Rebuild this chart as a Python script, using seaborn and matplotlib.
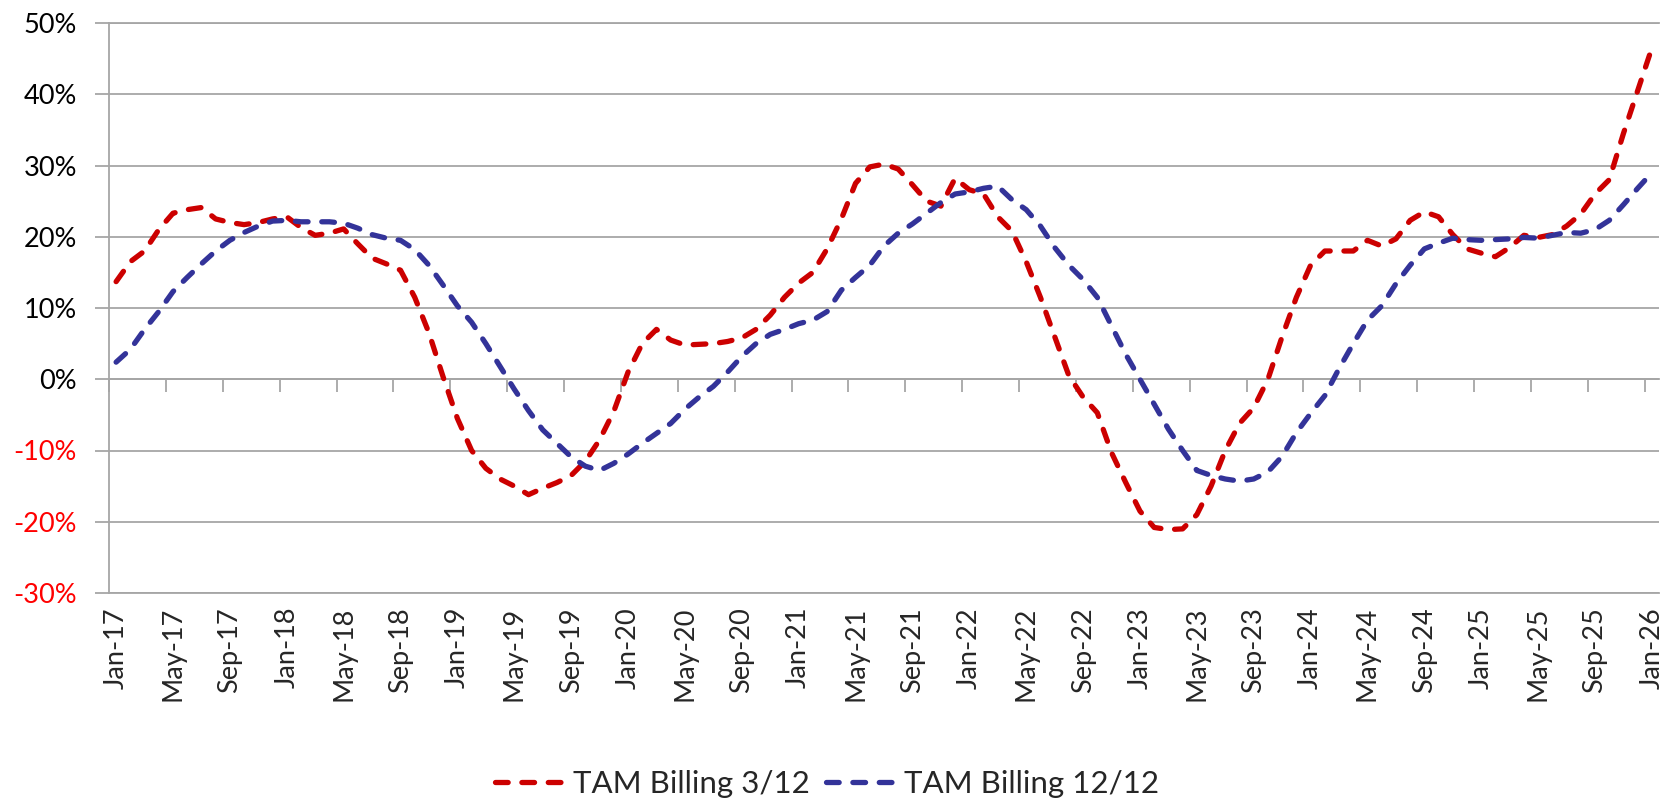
import numpy as np
import pandas as pd
import matplotlib
matplotlib.use("Agg")
import matplotlib.pyplot as plt
import seaborn as sns

# ---------------- data ----------------
months = pd.date_range("2017-01-01", "2026-01-01", freq="MS")  # 109 months

tam_3_12 = [
    13.7, 16.5, 18.0, 21.0, 23.3, 23.8, 24.1, 22.5, 22.0, 21.7, 22.0, 22.5,   # 2017
    22.8, 21.3, 20.2, 20.5, 21.1, 19.0, 17.0, 16.2, 15.3, 11.5, 6.5, 0.3,    # 2018
    -5.5, -10.0, -12.5, -14.0, -15.0, -16.2, -15.3, -14.5, -13.5, -11.5, -8.5, -4.5,  # 2019
    1.0, 5.0, 7.0, 5.5, 4.8, 4.9, 5.0, 5.3, 5.8, 7.0, 9.0, 11.5,             # 2020
    13.5, 15.0, 18.3, 22.5, 27.5, 29.8, 30.2, 29.5, 27.3, 25.0, 24.3, 28.2,  # 2021
    26.6, 26.0, 22.8, 20.8, 16.5, 11.5, 6.0, 0.5, -2.5, -4.7, -10.3, -14.5,  # 2022
    -18.5, -20.8, -21.1, -21.0, -19.0, -15.0, -10.0, -6.2, -4.0, 0.0, 6.0, 11.5,  # 2023
    16.0, 18.0, 18.0, 18.0, 19.5, 18.7, 19.7, 22.3, 23.5, 22.8, 20.3, 18.3,  # 2024
    17.7, 17.2, 18.5, 20.2, 19.9, 20.3, 21.5, 23.2, 26.0, 28.0, 34.5, 40.5,  # 2025
    46.5,                                                                   # Jan-26
]

tam_12_12 = [
    2.4, 4.2, 7.0, 9.5, 12.3, 14.3, 16.2, 18.0, 19.5, 20.6, 21.5, 22.2,      # 2017
    22.3, 22.1, 22.1, 22.1, 21.9, 21.2, 20.3, 19.8, 19.5, 18.2, 16.0, 13.2,  # 2018
    10.3, 8.0, 5.0, 1.8, -1.4, -4.4, -7.1, -9.0, -10.9, -12.2, -12.8, -11.8,  # 2019
    -10.5, -9.0, -7.6, -6.2, -4.2, -2.5, -1.0, 1.0, 3.2, 5.0, 6.3, 7.0,      # 2020
    7.8, 8.3, 9.5, 12.5, 14.3, 16.0, 18.7, 20.5, 21.8, 23.3, 24.8, 26.0,     # 2021
    26.3, 26.8, 27.1, 25.2, 23.8, 21.5, 18.5, 16.0, 14.0, 11.5, 7.5, 3.5,    # 2022
    0.0, -3.5, -7.0, -10.0, -12.8, -13.5, -14.0, -14.3, -14.0, -13.0, -10.8, -7.5,  # 2023
    -4.8, -2.3, 1.5, 5.0, 8.3, 10.3, 13.4, 16.0, 18.3, 19.1, 19.8, 19.6,     # 2024
    19.5, 19.6, 19.7, 19.9, 19.8, 20.2, 20.6, 20.5, 21.0, 22.3, 24.5, 26.8,  # 2025
    29.0,                                                                   # Jan-26
]

tick_labels = [
    "Jan-17", "May-17", "Sep-17", "Jan-18", "May-18", "Sep-18", "Jan-19",
    "May-19", "Sep-19", "Jan-20", "May-20", "Sep-20", "Jan-21", "May-21",
    "Sep-21", "Jan-22", "May-22", "Sep-22", "Jan-23", "May-23", "Sep-23",
    "Jan-24", "May-24", "Sep-24", "Jan-25", "May-25", "Sep-25", "Jan-26",
]

y_ticks = [-30, -20, -10, 0, 10, 20, 30, 40, 50]

series_names = ["TAM Billing 3/12", "TAM Billing 12/12"]
series_colors = ["#CC0000", "#333399"]

# ---------------- styling ----------------
sns.set_theme(style="white")
plt.rcParams["font.family"] = ["Lato", "DejaVu Sans"]

GRID = "#A6A6A6"

df = pd.DataFrame({
    "idx": np.arange(len(months)),
    series_names[0]: tam_3_12,
    series_names[1]: tam_12_12,
})

fig = plt.figure(figsize=(16.64, 8.01), dpi=100)
ax = fig.add_axes([109 / 1664, 1 - 593 / 801, 1550 / 1664, 570 / 801])

for name, color in zip(series_names, series_colors):
    sns.lineplot(data=df, x="idx", y=name, ax=ax, color=color, lw=3.8,
                 linestyle=(0, (2.4, 2.6)), dash_capstyle="round",
                 label=name)

leg = ax.get_legend()
if leg is not None:
    leg.remove()

ax.set_xlim(-0.5, len(months) - 0.5)
ax.set_ylim(y_ticks[0], y_ticks[-1])

# y axis
ax.set_yticks(y_ticks)
ax.set_yticklabels([f"{v}%" for v in y_ticks])
for lab, v in zip(ax.get_yticklabels(), y_ticks):
    lab.set_color("#FF0000" if v < 0 else "black")
ax.tick_params(axis="y", left=True, length=10, width=1.3, color=GRID,
               pad=13, labelsize=19.5)
ax.yaxis.grid(True, color=GRID, lw=1.3)
ax.xaxis.grid(False)
ax.set_axisbelow(True)

# x labels at the bottom
ax.set_xticks(np.arange(0, len(months), 4))
ax.set_xticklabels(tick_labels, rotation=90, va="top", ha="center")
ax.tick_params(axis="x", bottom=False, length=0, pad=10, labelsize=19.5)
ax.set_xlabel("")
ax.set_ylabel("")

ax.spines["right"].set_visible(False)
for side in ["left", "bottom", "top"]:
    ax.spines[side].set_color(GRID)
    ax.spines[side].set_linewidth(1.3)

# category-boundary tick marks on the 0% axis line
frac0 = (0 - y_ticks[0]) / (y_ticks[-1] - y_ticks[0])
sec = ax.secondary_xaxis(frac0)
sec.set_xticks(np.arange(-0.5, len(months) - 1, 4))
sec.set_xticklabels([])
sec.tick_params(axis="x", length=9, width=1.3, color=GRID, direction="out")
sec.spines["bottom"].set_color(GRID)
sec.spines["bottom"].set_linewidth(1.3)

handles, labels = ax.get_legend_handles_labels()
fig.legend(handles, labels, loc="center", bbox_to_anchor=(0.497, 0.021),
           ncol=2, frameon=False, fontsize=22.5, handlelength=2.4,
           handletextpad=0.1, columnspacing=0.5)

fig.savefig("out.png", dpi=100)
